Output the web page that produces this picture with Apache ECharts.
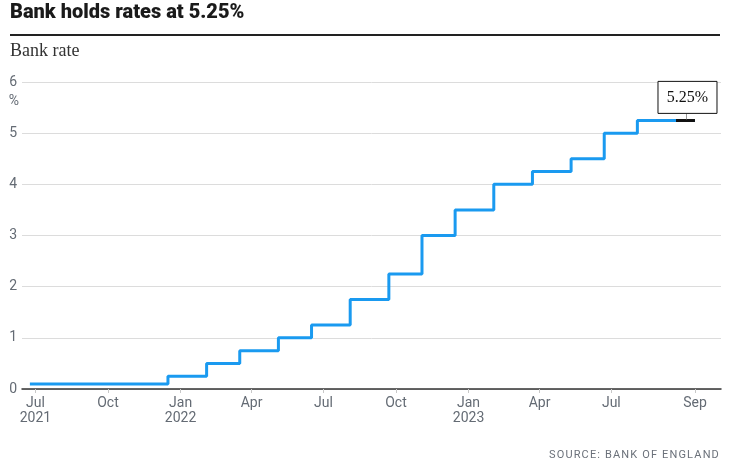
<!DOCTYPE html>
<html>
<head>
<meta charset="utf-8">
<script src="https://cdn.jsdelivr.net/npm/echarts@6/dist/echarts.min.js"></script>
<style>
html,body{margin:0;padding:0;background:#fff;}
#chart{width:738px;height:469px;position:relative;}
#source{position:absolute;right:18px;top:448px;font-family:'Roboto',sans-serif;font-size:11px;letter-spacing:1.15px;color:#6b717a;}
</style>
</head>
<body>
<div id="chart"></div>
<div id="source">SOURCE: BANK OF ENGLAND</div>
<script>
// ---- data ----
const rateDates = ['2021-06-24','2021-12-16','2022-02-03','2022-03-17','2022-05-05','2022-06-16','2022-08-04','2022-09-22','2022-11-03','2022-12-15','2023-02-02','2023-03-23','2023-05-11','2023-06-22','2023-08-03','2023-10-15'];
const rateValues = [0.1,0.25,0.5,0.75,1,1.25,1.75,2.25,3,3.5,4,4.25,4.5,5,5.25,5.25];
const holdDates = ['2023-09-21','2023-10-15'];
const holdValues = [5.25,5.25];
const tickDates = ['2021-07-01','2021-10-01','2022-01-01','2022-04-01','2022-07-01','2022-10-01','2023-01-01','2023-04-01','2023-07-01','2023-10-15'];
const tickLabels = ['Jul\n2021','Oct','Jan\n2022','Apr','Jul','Oct','Jan\n2023','Apr','Jul','Sep'];
const yTicks = [0,1,2,3,4,5,6];
const titleText = 'Bank holds rates at 5.25%';
const subtitleText = 'Bank rate';
const annotationText = '5.25%';

const ts = d => Date.UTC(+d.slice(0,4), +d.slice(5,7)-1, +d.slice(8,10));
const tickTs = tickDates.map(ts);
const axisFont = "'Liberation Sans Narrow','Roboto',sans-serif";
const labelColor = '#646b74';

const chart = echarts.init(document.getElementById('chart'), null, {renderer:'canvas'});
const xMin = ts('2021-06-14'), xMax = ts('2023-11-17');
const option = {
  backgroundColor:'#fff',
  animation:false,
  grid:{left:22,right:17,top:82,bottom:80,containLabel:false},
  xAxis:{
    type:'value',
    min:xMin,
    max:xMax,
    axisLine:{show:true,onZero:false,lineStyle:{color:'#333',width:1.5}},
    axisTick:{show:true,customValues:tickTs,length:4,lineStyle:{color:'#c8c8c8'}},
    splitLine:{show:false},
    axisLabel:{
      customValues:tickTs,
      showMinLabel:true,showMaxLabel:true,
      margin:7,
      fontFamily:axisFont,fontSize:14,color:labelColor,lineHeight:15,
      formatter:function(v){
        let best=0,bd=Infinity;
        tickTs.forEach((t,i)=>{const d=Math.abs(t-v); if(d<bd){bd=d;best=i;}});
        return tickLabels[best];
      }
    }
  },
  yAxis:{
    type:'value',min:0,max:6,interval:1,
    axisLine:{show:false},axisTick:{show:false},
    splitLine:{show:true,lineStyle:{color:'#dcdcdc',width:1}},
    axisLabel:{margin:5,fontFamily:axisFont,fontSize:14,color:labelColor,
      formatter:v=>yTicks.includes(v)?String(v):''}
  },
  series:[
    {type:'line',step:'end',symbol:'none',
     data:rateDates.map((d,i)=>[ts(d),rateValues[i]]),
     lineStyle:{color:'#1a9af0',width:3},z:3},
    {type:'line',symbol:'none',
     data:holdDates.map((d,i)=>[ts(d),holdValues[i]]),
     lineStyle:{color:'#111',width:3},z:4}
  ]
};
chart.setOption(option);

// annotation derived from scales
const midT = (ts(holdDates[0])+ts(holdDates[1]))/2;
const p = chart.convertToPixel({gridIndex:0},[midT,holdValues[0]]);
const p6 = chart.convertToPixel({gridIndex:0},[xMin,6]);
const boxW=59, boxH=32, boxBottom=p[1]-7;
chart.setOption({
  graphic:[
    {type:'text',left:10,top:3,style:{text:titleText,font:"900 20px Roboto, sans-serif",fill:'#1a1a1a'}},
    {type:'line',shape:{x1:10,y1:35,x2:720,y2:35},style:{stroke:'#222',lineWidth:2}},
    {type:'text',left:10,top:42,style:{text:subtitleText,font:"18px 'Liberation Serif', serif",fill:'#333'}},
    {type:'text',x:14,y:p6[1]+19,style:{text:'%',font:"14px "+axisFont,fill:labelColor,align:'center',verticalAlign:'middle'}},
    {type:'line',shape:{x1:p[0]+1,y1:boxBottom,x2:p[0]+1,y2:p[1]-1},style:{stroke:'#999',lineWidth:1},z:10},
    {type:'rect',shape:{x:p[0]-boxW/2+2,y:boxBottom-boxH,width:boxW,height:boxH},style:{fill:'#fff',stroke:'#111',lineWidth:1},z:10},
    {type:'text',x:p[0]+2,y:boxBottom-boxH/2,style:{text:annotationText,font:"16px 'Liberation Serif', serif",fill:'#111',align:'center',verticalAlign:'middle'},z:11}
  ]
});
</script>
</body>
</html>
